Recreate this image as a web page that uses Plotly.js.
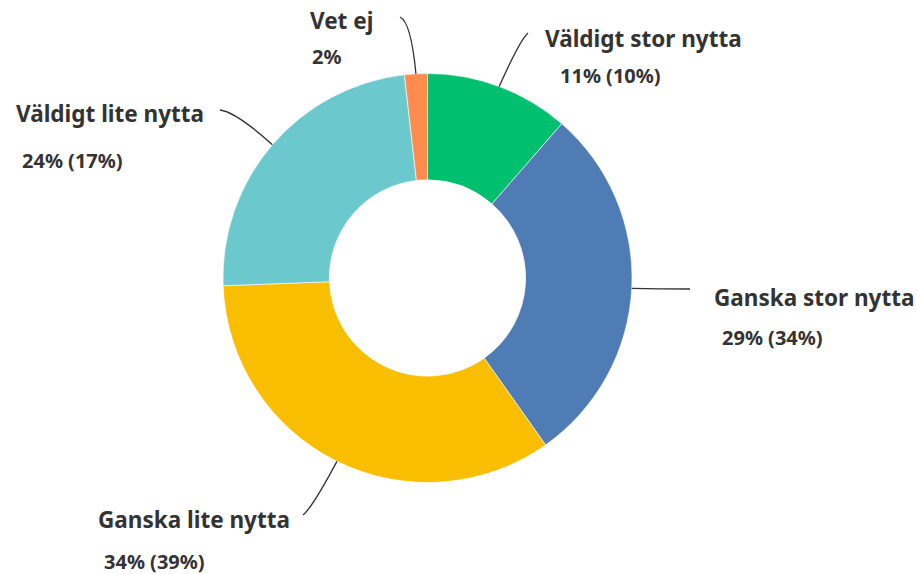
<!DOCTYPE html>
<html>
<head>
<meta charset="utf-8">
<script src="https://cdn.plot.ly/plotly-3.0.1.min.js"></script>
<style>html,body{margin:0;padding:0;background:#fff;}#chart{width:917px;height:574px;}</style>
</head>
<body>
<div id="chart"></div>
<script>
// Data (shares)
const categories = ["Väldigt stor nytta", "Ganska stor nytta", "Ganska lite nytta", "Väldigt lite nytta", "Vet ej"];
const values = [11.4, 28.8, 34.2, 23.8, 1.8];
const previousLabels = ["11% (10%)", "29% (34%)", "34% (39%)", "24% (17%)", "2%"];
const colors = ["#00BF6F", "#507CB6", "#F9BE00", "#6BC8CD", "#FF8B4F"];

// Layout (pixel positions of labels)
const W = 917, H = 574;
const cx = 427.5, cy = 278, R = 204.5;
const titlePos = [[543, 38], [712, 297], [96, 519], [14, 113], [308, 20]];
const pctPos = [[558, 75], [720, 337], [102, 561], [20, 160], [310, 57]];
const lineEnd = [[528, 33], [690, 289], [303, 515], [220, 110], [400, 17]];
const elbow = [[520, 40], [660, 289], [312, 508], [236, 112], [411, 22]];

const px = x => x / W;
const py = y => (H - y) / H;

const total = values.reduce((a, b) => a + b, 0);
let cum = 0;
const shapes = [];
const annotations = [];
values.forEach((v, i) => {
  const mid = (cum + v / 2) / total * 2 * Math.PI;
  cum += v;
  const sx = cx + R * Math.sin(mid), sy = cy - R * Math.cos(mid);
  const [ex, ey] = lineEnd[i];
  const [qx, qy] = elbow[i];
  shapes.push({
    type: "path", xref: "paper", yref: "paper",
    path: `M ${px(sx)},${py(sy)} Q ${px(qx)},${py(qy)} ${px(ex)},${py(ey)}`,
    line: {color: "#333333", width: 1.3}
  });
  annotations.push({
    xref: "paper", yref: "paper", x: px(titlePos[i][0]), y: py(titlePos[i][1]),
    xanchor: "left", yanchor: "middle", showarrow: false,
    text: "<b>" + categories[i] + "</b>",
    font: {family: "Noto Sans", size: 22.5, color: "#333333"}
  });
  annotations.push({
    xref: "paper", yref: "paper", x: px(pctPos[i][0]), y: py(pctPos[i][1]),
    xanchor: "left", yanchor: "middle", showarrow: false,
    text: "<b>" + previousLabels[i] + "</b>",
    font: {family: "Noto Sans", size: 20, color: "#333333"}
  });
});

const trace = {
  type: "pie",
  labels: categories,
  values: values,
  sort: false,
  direction: "clockwise",
  rotation: 0,
  hole: 0.48,
  textinfo: "none",
  hoverinfo: "none",
  marker: {colors: colors, line: {color: "#ffffff", width: 0.6}},
  domain: {x: [(cx - R) / W, (cx + R) / W], y: [(H - cy - R) / H, (H - cy + R) / H]}
};

Plotly.newPlot("chart", [trace], {
  width: W, height: H,
  margin: {l: 0, r: 0, t: 0, b: 0},
  showlegend: false,
  paper_bgcolor: "#ffffff",
  shapes: shapes,
  annotations: annotations
}, {staticPlot: true});
</script>
</body>
</html>
